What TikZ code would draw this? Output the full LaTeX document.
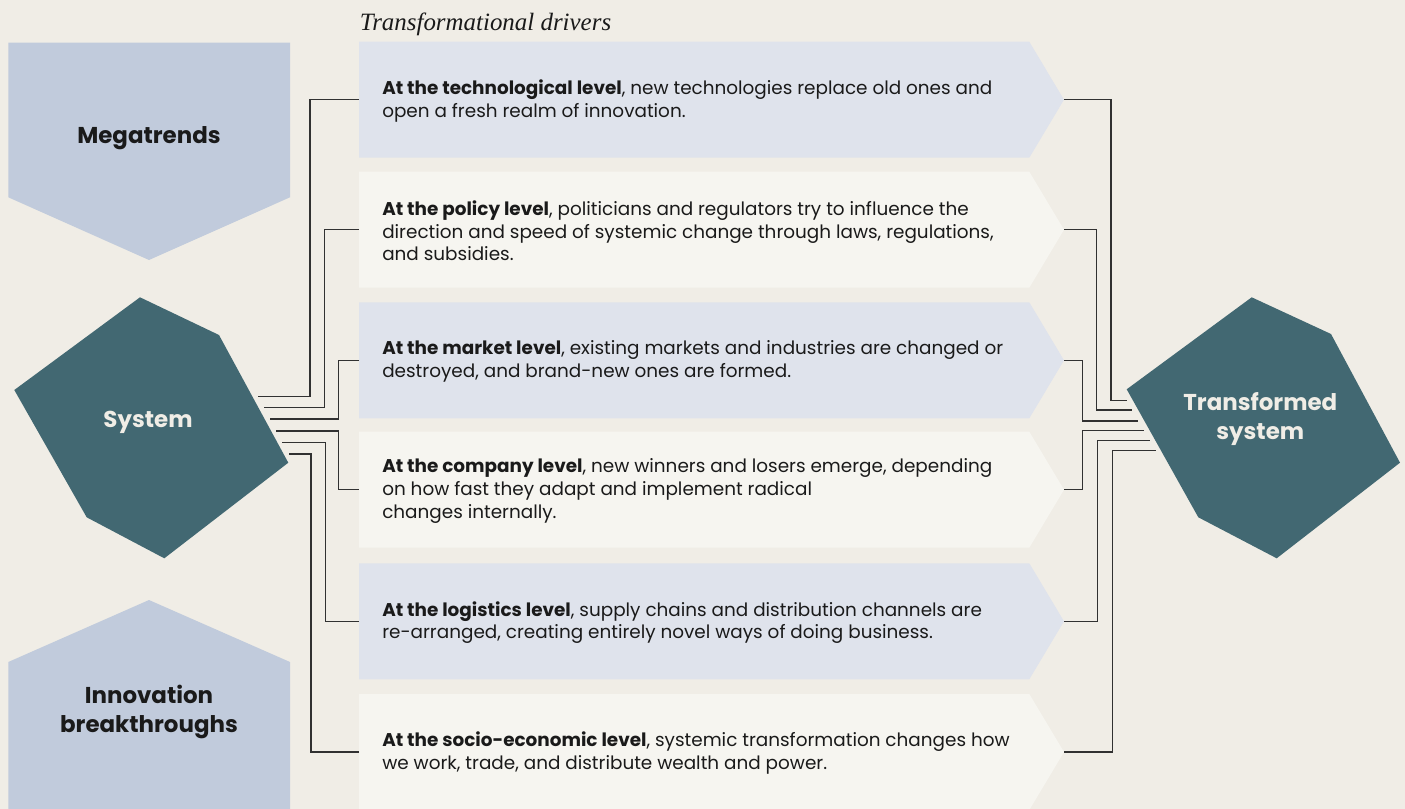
\documentclass[tikz,border=0pt]{standalone}
\usepackage{fontspec}
\setmainfont{Poppins}
\newfontfamily\titlefont{Liberation Serif}
\usetikzlibrary{calc}
\definecolor{bgc}{HTML}{F0EDE6}
\definecolor{shapeblue}{HTML}{C1CBDC}
\definecolor{boxblue}{HTML}{DFE3EC}
\definecolor{boxwhite}{HTML}{F6F5F0}
\definecolor{teal}{HTML}{426872}
\definecolor{ink}{HTML}{1A1A1A}
\tikzset{
  conn/.style={draw=ink!90, line width=0.8pt},
  bodytext/.style={anchor=west, align=left, text=ink, font=\fontsize{13.8}{17}\selectfont, inner sep=0pt},
  biglabel/.style={align=center, text=ink, font=\fontsize{17.2}{21.5}\selectfont\bfseries, inner sep=0pt},
  hexlabel/.style={align=center, text=bgc, font=\fontsize{17.2}{21.5}\selectfont\bfseries, inner sep=0pt},
}
\begin{document}
\begin{tikzpicture}[x=0.75pt,y=-0.75pt]
\fill[bgc] (0,0) rectangle (1405,809);
\useasboundingbox (0,0) rectangle (1405,809);

% left side shapes
\fill[shapeblue] (8.3,42.7) -- (290,42.7) -- (290,197.3) -- (149,260) -- (8.3,197.3) -- cycle;
\node[biglabel] (mega) at (149,138) {Megatrends};
\fill[shapeblue] (8.3,809) -- (8.3,662) -- (149,600) -- (290,662) -- (290,809) -- cycle;
\node[biglabel] (innov) at (149,712) {Innovation\\breakthroughs};

% hexagons
\fill[teal] (140,297.3) -- (219,335) -- (288.3,462.7) -- (164.3,558.3) -- (86.7,517.3) -- (14.3,390) -- cycle;
\node[hexlabel] (sys) at (148,422) {System};
\fill[teal] (1251.7,297.3) -- (1331,334) -- (1400,462.7) -- (1276.7,558.3) -- (1198.3,517.3) -- (1126.7,389.3) -- cycle;
\node[hexlabel] (tsys) at (1260.3,419) {Transformed\\system};

% title
\node[anchor=base west, inner sep=0pt, text=ink, font=\titlefont\itshape\fontsize{18.7}{20}\selectfont] (title) at (359.5,30.7) {Transformational drivers};

% driver boxes
\foreach \i/\t/\c in {1/41.7/boxblue,2/171.7/boxwhite,3/302.3/boxblue,4/431.7/boxwhite,5/563.3/boxblue,6/694/boxwhite}{
  \fill[\c] (359,\t) -- (1029.3,\t) -- (1064,\t+58) -- (1029.3,\t+116) -- (359,\t+116) -- cycle;
  \coordinate (b\i w) at (359,\t+58);
  \coordinate (b\i e) at (1064,\t+58);
}

\node[bodytext] (t1) at (382,101) {\textbf{At the technological level}, new technologies replace old ones and\\open a fresh realm of innovation.};
\node[bodytext] (t2) at (382,231) {\textbf{At the policy level}, politicians and regulators try to influence the\\direction and speed of systemic change through laws, regulations,\\and subsidies.};
\node[bodytext] (t3) at (382,361.6) {\textbf{At the market level}, existing markets and industries are changed or\\destroyed, and brand-new ones are formed.};
\node[bodytext] (t4) at (382,491) {\textbf{At the company level}, new winners and losers emerge, depending\\on how fast they adapt and implement radical\\changes internally.};
\node[bodytext] (t5) at (382,622.6) {\textbf{At the logistics level}, supply chains and distribution channels are\\re-arranged, creating entirely novel ways of doing business.};
\node[bodytext] (t6) at (382,753.3) {\textbf{At the socio-economic level}, systemic transformation changes how\\we work, trade, and distribute wealth and power.};

% left connector points
\coordinate (l1) at (310,396.7);   \coordinate (s1) at (258,396.7);
\coordinate (l2) at (324.7,407.7); \coordinate (s2) at (263.5,407.7);
\coordinate (l3) at (338.7,419);   \coordinate (s3) at (269.7,419);
\coordinate (l4) at (338.7,431);   \coordinate (s4) at (276,431);
\coordinate (l5) at (325.5,442.7); \coordinate (s5) at (282.3,442.7);
\coordinate (l6) at (311,454);     \coordinate (s6) at (288.5,454);
% right connector points
\coordinate (r1) at (1111,400.7);   \coordinate (u1) at (1126.7,400.7);
\coordinate (r2) at (1096.7,410);   \coordinate (u2) at (1132.3,410);
\coordinate (r3) at (1082.7,421);   \coordinate (u3) at (1138.3,421);
\coordinate (r4) at (1082.7,430.7); \coordinate (u4) at (1144.3,430.7);
\coordinate (r5) at (1097.7,440.3); \coordinate (u5) at (1150,440.3);
\coordinate (r6) at (1112.3,450.3); \coordinate (u6) at (1155.7,450.3);

\foreach \i in {1,...,6}{
  \draw[conn] (b\i w) -| (l\i) -- (s\i);
  \draw[conn] (b\i e) -| (r\i) -- (u\i);
}
\end{tikzpicture}
\end{document}
